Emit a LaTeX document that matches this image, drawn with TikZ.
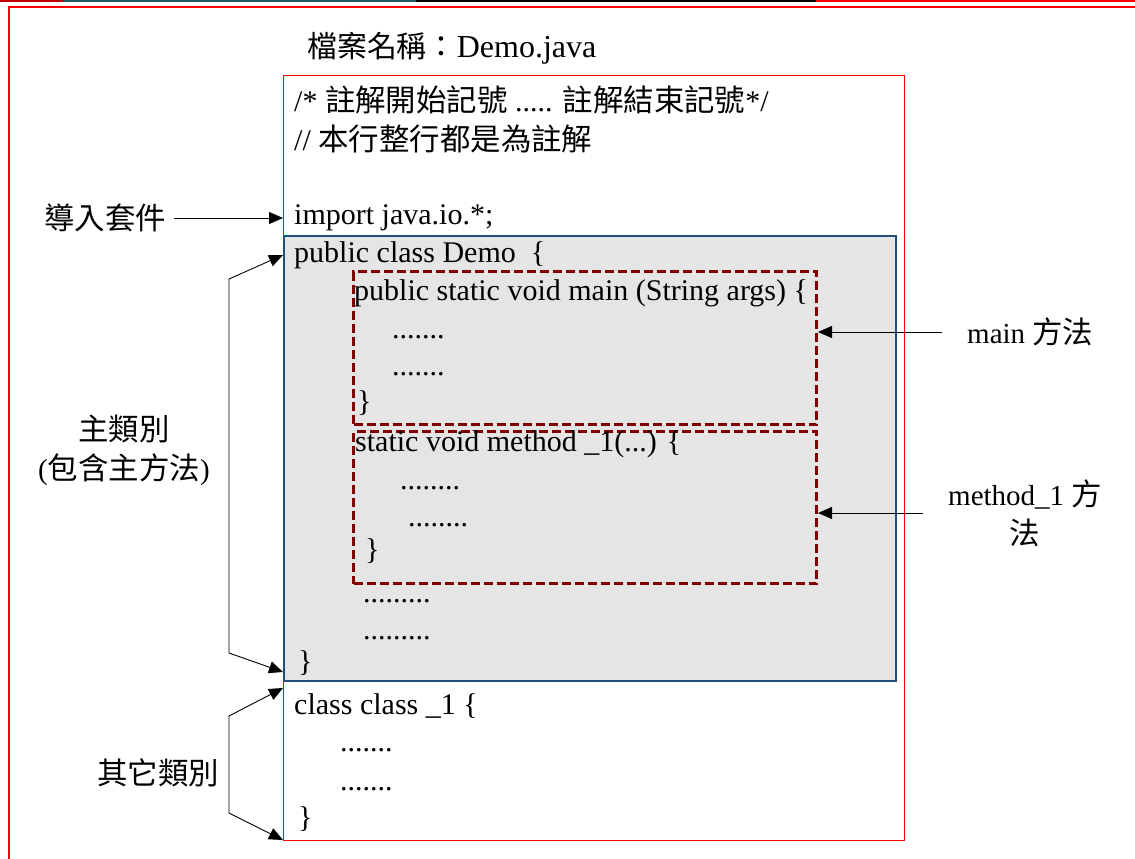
\documentclass[tikz,border=0pt]{standalone}
\usepackage{fontspec}
\setmainfont{Liberation Serif}
\newfontfamily\cj[Scale=1.05]{Noto Sans CJK TC}
\usetikzlibrary{arrows.meta}
\definecolor{frameRed}{RGB}{255,0,0}
\definecolor{boxGray}{RGB}{229,229,229}
\definecolor{boxBlue}{RGB}{31,78,121}
\definecolor{dashRed}{RGB}{128,0,0}
\definecolor{barRed}{RGB}{192,0,0}
\definecolor{barTeal}{RGB}{33,88,104}
\tikzset{
  code/.style={anchor=base west, inner sep=0pt, font=\fontsize{30}{34}\selectfont},
  lbl/.style={inner sep=0pt, align=center, font=\fontsize{29}{39}\selectfont},
  arr/.style={line width=0.9pt, -{Triangle[length=14pt,width=12pt]}},
  arrboth/.style={line width=0.9pt, {Triangle[length=14pt,width=12pt]}-{Triangle[length=14pt,width=12pt]}},
  methodbox/.style={draw=dashRed, line width=3pt, dash pattern=on 9pt off 4pt, inner sep=0pt, anchor=north west},
}
\begin{document}
\begin{tikzpicture}[x=1pt,y=-1pt]
\useasboundingbox (0,0) rectangle (1135,859);
% top strip
\fill[barRed] (0,0) rectangle (63,2.2);
\fill[barTeal] (63,0) rectangle (416,2.2);
\fill[black] (416,0) rectangle (816,2.2);
\fill[frameRed] (816,0) rectangle (1135,2.2);
% outer frame
\draw[frameRed, line width=2pt] (9,859) -- (9,7) -- (1136,7);
% file box
\node[draw=frameRed, line width=1pt, inner sep=0pt, anchor=north west, minimum width=621pt, minimum height=765pt] (file) at (283,75) {};
% class box
\node[draw=boxBlue, fill=boxGray, line width=1.5pt, inner sep=0pt, anchor=north west, minimum width=612pt, minimum height=445pt] (cls) at (283,235) {};
% method boxes
\node[methodbox, minimum width=463pt, minimum height=153pt] (mainbox) at (352,270) {};
\node[methodbox, minimum width=463pt, minimum height=152pt] (methbox) at (352,430) {};
% title
\node[code, font=\fontsize{32}{36}\selectfont] (title) at (307,58) {{\fontsize{28.5}{34}\selectfont\cj 檔案名稱：}Demo.java};
% code text
\node[code] (t1) at (294,111) {/* {\fontsize{29}{34}\selectfont\cj 註解開始記號} ..... {\fontsize{29}{34}\selectfont\cj 註解結束記號}*/};
\node[code] (t2) at (294,150) {// {\fontsize{29}{34}\selectfont\cj 本行整行都是為註解}};
\node[code] (imp) at (294,224) {import java.io.*;};
\node[code] (pcd) at (294,262) {public class Demo\ \ \{};
\node[code] (psv) at (354,300) {public static void main (String args) \{};
\node[code] (d1) at (392,338) {.......};
\node[code] (d2) at (392,375) {.......};
\node[code] (c1) at (357,411) {\}};
\node[code] (svm) at (355,451) {static void method \_1(...) \{};
\node[code] (d3) at (400,489) {........};
\node[code] (d4) at (408,526) {........};
\node[code] (c2) at (365,559) {\}};
\node[code] (d5) at (363,602) {.........};
\node[code] (d6) at (363,639) {.........};
\node[code] (c3) at (298,671) {\}};
\node[code] (cc) at (294,714) {class class \_1 \{};
\node[code] (d7) at (340,751) {.......};
\node[code] (d8) at (340,790) {.......};
\node[code] (c4) at (298,827) {\}};
% labels
\node[lbl] (lblimp) at (105,218) {{\cj 導入套件}};
\node[lbl] (lblmaincls) at (124,450) {{\cj 主類別}\\({\cj 包含主方法})};
\node[lbl] (lblother) at (158,773) {{\cj 其它類別}};
\node[lbl, anchor=west] (lblmain) at (967,332) {main {\cj 方法}};
\node[lbl, anchor=west] (lblmeth) at (948,513) {method\_1 {\cj 方}\\{\cj 法}};
% connectors
\draw[arr] ([xshift=8pt]lblimp.east) -- (lblimp.east -| file.west);
\draw[arr] ([xshift=-25pt]lblmain.west) -- (lblmain.west -| mainbox.east);
\draw[arr] ([xshift=-25pt]lblmeth.west) -- (lblmeth.west -| methbox.east);
\coordinate (ta) at (283,255);
\coordinate (ka) at (229,279);
\coordinate (kb) at (229,653);
\coordinate (tb) at (283,672);
\coordinate (tc) at (283,688);
\coordinate (kc) at (229,716);
\coordinate (kd) at (229,813);
\coordinate (td) at (283,840);
\draw[arrboth] (ta) -- (ka) -- (kb) -- (tb);
\draw[arrboth] (tc) -- (kc) -- (kd) -- (td);
\end{tikzpicture}
\end{document}
